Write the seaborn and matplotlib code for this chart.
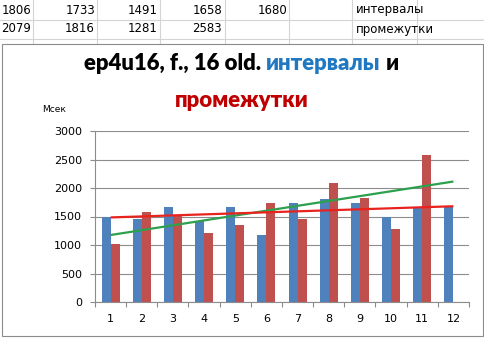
import numpy as np
import pandas as pd
import matplotlib
matplotlib.use("Agg")
import matplotlib.pyplot as plt
import seaborn as sns
from matplotlib.lines import Line2D
from matplotlib.patches import Rectangle

# ---------------- data ----------------
categories = [str(i) for i in range(1, 13)]
intervals = [1500, 1456, 1665, 1427, 1660, 1176, 1730, 1806, 1733, 1491, 1658, 1680]
gaps = [1020, 1578, 1510, 1211, 1351, 1735, 1456, 2079, 1816, 1281, 2583]
series_names = ["интервалы", "промежутки"]
yticks = [0, 500, 1000, 1500, 2000, 2500, 3000]
y_label = "Мсек"
title_line1 = [("ep4u16, f., 16 old. ", "black"), ("интервалы", "#1F78C1"), (" и", "black")]
title_line2 = [("промежутки", "#C00000")]

bar_colors = ["#4F81BD", "#C0504D"]
trend_colors = {"интервалы": "#E8231E", "промежутки": "#2CA04C"}

# ---------------- figure ----------------
sns.set_theme(style="white")
plt.rcParams["font.family"] = ["DejaVu Sans"]
W, H = 485, 338
fig = plt.figure(figsize=(W / 100, H / 100), dpi=100)
fig.patch.set_facecolor("white")

def fx(px):
    return px / W

def fy(py):
    return 1 - py / H

# spreadsheet remnants at the top
grid_c = "#D4D4D4"
for yy in [19.5, 38.5]:
    fig.add_artist(Line2D([0, 1], [fy(yy), fy(yy)], color=grid_c, lw=0.8, zorder=-2))
for xx in [33, 97, 160, 225, 289, 352, 417]:
    fig.add_artist(Line2D([fx(xx), fx(xx)], [fy(0), fy(44)], color=grid_c, lw=0.8, zorder=-2))
row1 = [str(v) for v in intervals[7:]]
row2 = [str(v) for v in gaps[7:]]
right_edges = [31, 95, 158, 222, 287]
for vals, yy in [(row1, 10), (row2, 29)]:
    for v, xr in zip(vals, right_edges):
        fig.text(fx(xr), fy(yy), v, ha="right", va="center", fontsize=8.5, color="black")
fig.text(fx(356), fy(10), series_names[0], ha="left", va="center", fontsize=8.5, color="black")
fig.text(fx(356), fy(29), series_names[1], ha="left", va="center", fontsize=8.5, color="black")

# chart area border
fig.add_artist(Rectangle((fx(2), fy(336)), fx(481), 292 / H,
                         fill=True, facecolor="white", edgecolor="#8C8C8C", lw=0.8, zorder=-1))

# ---------------- plot ----------------
ax = fig.add_axes([fx(95), 36 / H, fx(374), 171 / H])
ax.set_zorder(1)
rows = []
for c, v in zip(categories, intervals):
    rows.append((c, series_names[0], v))
for c, v in zip(categories, gaps):
    rows.append((c, series_names[1], v))
df = pd.DataFrame(rows, columns=["cat", "series", "value"])

sns.barplot(data=df, x="cat", y="value", hue="series", order=categories,
            hue_order=series_names, palette=bar_colors, width=0.58, gap=0,
            saturation=1, errorbar=None, legend=False, ax=ax, zorder=2,
            linewidth=0)

# linear trend lines (computed from the data)
xall = np.arange(len(categories))
for name, vals in [("промежутки", gaps), ("интервалы", intervals)]:
    xs = np.arange(len(vals))
    k, b = np.polyfit(xs, vals, 1)
    ax.plot(xall, k * xall + b, color=trend_colors[name], lw=1.6, zorder=3,
            solid_capstyle="butt")

ax.set_xlim(-0.5, len(categories) - 0.5)
ax.set_ylim(0, 3000)
ax.set_yticks(yticks)
ax.set_yticklabels([str(t) for t in yticks])
ax.set_xlabel("")
ax.set_ylabel("")
ax.yaxis.grid(True, color="#8C8C8C", lw=0.8)
ax.set_axisbelow(True)
for s in ["top", "right"]:
    ax.spines[s].set_visible(False)
for s in ["left", "bottom"]:
    ax.spines[s].set_color("#8C8C8C")
    ax.spines[s].set_linewidth(0.8)
ax.patch.set_alpha(0)
ax.set_xticks(np.arange(-0.5, len(categories), 1.0), minor=True)
ax.tick_params(axis="x", which="major", length=0, pad=9, labelsize=8, colors="black")
ax.tick_params(axis="x", which="minor", length=3.5, width=0.8, color="#8C8C8C", direction="out")
ax.tick_params(axis="y", which="major", length=3.5, width=0.8, color="#8C8C8C",
               direction="out", pad=6, labelsize=8, labelcolor="black")
ax.yaxis.set_ticks_position("left")
ax.xaxis.set_ticks_position("bottom")

fig.text(fx(42), fy(110), y_label, ha="left", va="center", fontsize=6.5, color="black")

# ---------------- multi-coloured title ----------------
renderer = fig.canvas.get_renderer()

def draw_line(parts, center_x, baseline_y, size, target_w=None):
    texts = []
    for s, c in parts:
        t = fig.text(0, fy(baseline_y), s, fontsize=size, fontweight="heavy",
                     family="Lato", color=c, ha="left", va="baseline")
        texts.append(t)
    widths = [t.get_window_extent(renderer).width for t in texts]
    total = sum(widths)
    if target_w is not None:
        scale = target_w / total
        for t in texts:
            t.set_fontsize(size * scale)
        widths = [t.get_window_extent(renderer).width for t in texts]
        total = sum(widths)
    x = center_x - total / 2
    for t, w in zip(texts, widths):
        t.set_x(fx(x))
        x += w
    return texts[0].get_fontsize()

fs = draw_line(title_line1, 241.5, 70, 14, target_w=317)
draw_line(title_line2, 242, 107, fs)

fig.savefig("out.png", dpi=100, facecolor="white")
